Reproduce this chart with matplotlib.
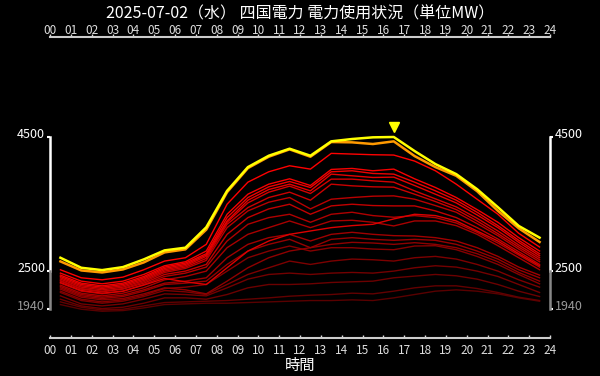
import numpy as np
import matplotlib
matplotlib.use('Agg')
import matplotlib.pyplot as plt
from matplotlib.transforms import offset_copy, ScaledTranslation

plt.rcParams['font.family'] = ['Noto Sans CJK JP', 'DejaVu Sans']

title = '2025-07-02（水） 四国電力 電力使用状況（単位MW）'
hours = list(range(24))
hour_labels = ['%02d' % h for h in range(25)]
ytick_vals = [1940, 2500, 4500]

# today / yesterday
today = [2700, 2550, 2515, 2560, 2675, 2810, 2850, 3155, 3700, 4055, 4225, 4330,
         4225, 4440, 4475, 4500, 4505, 4295, 4100, 3950, 3725, 3455, 3175, 3000]
ago_1 = [2645, 2510, 2480, 2525, 2630, 2780, 2825, 3120, 3680, 4040, 4210, 4320,
         4210, 4430, 4425, 4400, 4440, 4220, 4055, 3925, 3695, 3400, 3140, 2935]

# older days
ago_2 = [2520, 2400, 2370, 2410, 2520, 2650, 2700, 2900, 3500, 3830, 3985, 4075,
         4025, 4260, 4250, 4240, 4235, 4145, 4000, 3800, 3575, 3350, 3065, 2860]
ago_3 = [2470, 2350, 2310, 2350, 2450, 2580, 2640, 2800, 3350, 3650, 3800, 3880,
         3780, 4020, 4035, 4000, 4025, 3880, 3750, 3600, 3420, 3230, 3000, 2800]
ago_4 = [2440, 2320, 2280, 2320, 2420, 2560, 2620, 2760, 3300, 3600, 3760, 3840,
         3750, 3985, 4000, 3960, 3950, 3830, 3700, 3560, 3380, 3180, 2960, 2760]
ago_5 = [2420, 2300, 2260, 2300, 2400, 2540, 2600, 2740, 3250, 3560, 3720, 3800,
         3700, 3950, 3925, 3900, 3905, 3780, 3650, 3520, 3340, 3150, 2930, 2730]
ago_6 = [2330, 2210, 2170, 2200, 2290, 2390, 2340, 2300, 2550, 2800, 2950, 3050,
         3100, 3150, 3180, 3200, 3280, 3350, 3330, 3250, 3100, 2950, 2760, 2580]
ago_7 = [2400, 2280, 2240, 2280, 2380, 2520, 2580, 2720, 3230, 3520, 3680, 3770,
         3660, 3875, 3875, 3850, 3830, 3700, 3580, 3460, 3290, 3100, 2890, 2700]
ago_8 = [2380, 2260, 2220, 2260, 2360, 2500, 2560, 2690, 3200, 3450, 3600, 3680,
         3560, 3800, 3775, 3760, 3755, 3650, 3540, 3420, 3250, 3060, 2860, 2670]
ago_9 = [2350, 2230, 2190, 2230, 2320, 2450, 2500, 2600, 3050, 3300, 3430, 3500,
         3350, 3475, 3500, 3480, 3475, 3475, 3400, 3300, 3150, 2980, 2790, 2600]
ago_10 = [2360, 2240, 2200, 2240, 2340, 2480, 2540, 2660, 3150, 3400, 3530, 3600,
          3430, 3575, 3600, 3620, 3625, 3575, 3480, 3380, 3210, 3030, 2830, 2640]
ago_11 = [2320, 2200, 2160, 2200, 2300, 2420, 2470, 2560, 2950, 3200, 3300, 3350,
          3230, 3350, 3380, 3330, 3305, 3330, 3300, 3220, 3080, 2920, 2740, 2560]
ago_12 = [2290, 2170, 2130, 2170, 2250, 2370, 2420, 2500, 2850, 3050, 3150, 3250,
          3150, 3250, 3260, 3230, 3175, 3250, 3250, 3180, 3050, 2880, 2700, 2520]
ago_13 = [2270, 2150, 2110, 2140, 2220, 2320, 2350, 2400, 2700, 2900, 3000, 3050,
          2950, 3050, 3080, 3050, 3030, 3025, 3000, 2950, 2850, 2720, 2560, 2440]
ago_14 = [2250, 2130, 2090, 2120, 2200, 2300, 2320, 2350, 2600, 2800, 2900, 2975,
          2850, 2975, 3000, 2975, 2960, 2975, 2960, 2900, 2800, 2680, 2520, 2400]
ago_15 = [2230, 2110, 2070, 2090, 2160, 2250, 2220, 2160, 2350, 2550, 2700, 2800,
          2850, 2900, 2930, 2920, 2900, 2925, 2900, 2850, 2760, 2640, 2480, 2350]
ago_16 = [2200, 2080, 2040, 2070, 2140, 2240, 2260, 2300, 2500, 2700, 2800, 2875,
          2800, 2850, 2850, 2830, 2820, 2875, 2880, 2820, 2720, 2600, 2450, 2310]
ago_17 = [2180, 2060, 2020, 2050, 2120, 2210, 2190, 2150, 2300, 2450, 2550, 2650,
          2600, 2650, 2680, 2670, 2650, 2700, 2720, 2680, 2600, 2500, 2370, 2260]
ago_18 = [2130, 2010, 1980, 2010, 2080, 2160, 2150, 2130, 2250, 2380, 2450, 2470,
          2450, 2470, 2480, 2470, 2500, 2550, 2580, 2560, 2500, 2420, 2300, 2180]
ago_19 = [2080, 1980, 1940, 1960, 2020, 2100, 2100, 2080, 2150, 2250, 2300, 2300,
          2310, 2330, 2340, 2350, 2400, 2425, 2450, 2430, 2380, 2300, 2200, 2120]
ago_20 = [2040, 1960, 1920, 1930, 1980, 2030, 2040, 2050, 2060, 2080, 2100, 2125,
          2140, 2150, 2170, 2160, 2200, 2250, 2280, 2280, 2240, 2180, 2110, 2060]
ago_21 = [2000, 1930, 1900, 1910, 1950, 2000, 2010, 2020, 2020, 2030, 2040, 2050,
          2060, 2060, 2070, 2060, 2100, 2150, 2200, 2220, 2200, 2160, 2100, 2050]

past = [ago_21, ago_20, ago_19, ago_18, ago_17, ago_16, ago_15, ago_14, ago_13,
        ago_12, ago_11, ago_10, ago_9, ago_8, ago_7, ago_6, ago_5, ago_4, ago_3, ago_2]

fig = plt.figure(figsize=(6, 3.76), dpi=100, facecolor='black')
ax = fig.add_axes([50/600, 1-338/376, 500/600, 301/376])
ax.set_facecolor('black')

x = np.array(hours) + 0.5
n = len(past)
for i, vals in enumerate(past):
    t = i / (n - 1)
    ax.plot(x, vals, color=(0.35 + 0.65*t, 0, 0), lw=1.0)
ax.plot(x, ago_1, color='#ff9900', lw=1.8)
ax.plot(x, today, color='#ffff00', lw=1.8)

# peak marker
imax = int(np.argmax(today))
tr = offset_copy(ax.transData, fig=fig, x=0, y=10, units='dots')
ax.plot(x[imax], today[imax], marker='v', color='#ffff00', ms=7, transform=tr, clip_on=False)

ax.set_xlim(0, 24)
ax.set_ylim(1500, 6000)

# bottom x axis
ax.set_xticks(range(25))
ax.set_xticklabels(hour_labels)
ax.tick_params(axis='x', colors='#dddddd', labelsize=8.5, length=2.5, width=1,
               direction='in', pad=4)
# top x axis
sec = ax.secondary_xaxis('top')
sec.set_xticks(range(25))
sec.set_xticklabels(hour_labels)
sec.tick_params(axis='x', colors='#dddddd', labelsize=8.5, length=2.5, width=1,
                direction='out', pad=-2.5)
sec.spines['top'].set_color('#cccccc')
sec.spines['top'].set_linewidth(1.5)
ax.spines['bottom'].set_color('#cccccc')
ax.spines['bottom'].set_linewidth(1.5)
for side in ['left', 'right', 'top']:
    ax.spines[side].set_visible(False)

# y axes both sides
ax.set_yticks(ytick_vals)
ax.set_yticklabels([str(v) for v in ytick_vals])
ax.tick_params(axis='y', left=True, right=True, labelleft=True, labelright=True,
               colors='white', labelsize=9, length=2, width=1.5, pad=1.5)
up = ScaledTranslation(0, 4/100, fig.dpi_scale_trans)
for t in ax.yaxis.get_major_ticks():
    t.label1.set_transform(t.label1.get_transform() + up)
    t.label2.set_transform(t.label2.get_transform() + up)
    if t.get_loc() == 1940:
        t.label1.set_color('#999999')
        t.label2.set_color('#999999')
        t.tick1line.set_color('#888888')
        t.tick2line.set_color('#888888')

ytr = ax.get_yaxis_transform()
for xs in [0, 1]:
    ax.plot([xs, xs], [2500, 4500], transform=ytr, color='white', lw=1.8, clip_on=False)
    ax.plot([xs, xs], [1940, 2500], transform=ytr, color='#888888', lw=1.8, clip_on=False)

ax.set_xlabel('時間', color='white', fontsize=11, labelpad=0)
fig.text(0.5, 1 - 14/376, title, color='white', fontsize=11.5, ha='center', va='center')

fig.savefig('out.png', dpi=100, facecolor='black')
